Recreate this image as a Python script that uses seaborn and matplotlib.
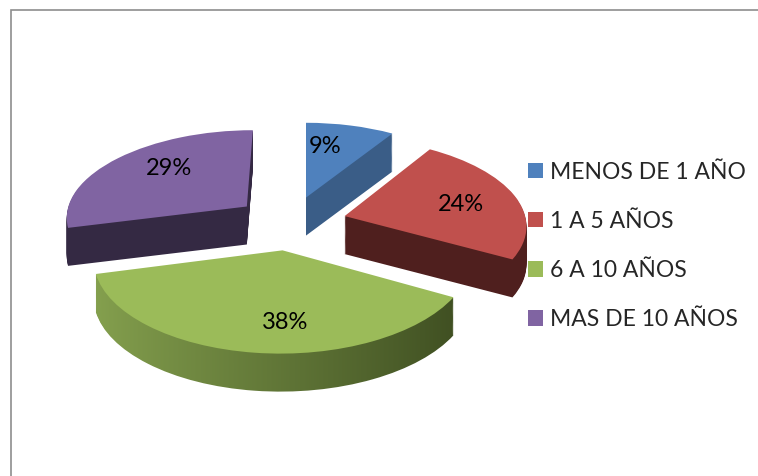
import numpy as np
import matplotlib
matplotlib.use('Agg')
import matplotlib.pyplot as plt
from matplotlib.colors import LinearSegmentedColormap
from matplotlib.patches import Rectangle
from matplotlib.transforms import ScaledTranslation, Transform
import seaborn as sns

# Data
categories = ['MENOS DE 1 AÑO', '1 A 5 AÑOS', '6 A 10 AÑOS', 'MAS DE 10 AÑOS']
percents = [9, 24, 38, 29]
top_colors = ['#4F81BD', '#C0504D', '#9BBB59', '#8064A2']
side_colors = ['#3A5D87', '#4F1F1E', '#5F7A34', '#342943']
green_side = ['#86A24F', '#3B4A1F']

# label nudges to mimic Excel's label placement
label_turn = [6, -3, 9, -7]
label_dist = [0.67, 0.67, 0.72, 0.67]

sns.set_theme(style='white')
plt.rcParams['font.family'] = ['Lato', 'DejaVu Sans']

X0, A, K = 0.0865, 0.10, 0.10


class Tilt(Transform):
    """Rough perspective: squeeze the far side of the disc."""
    input_dims = output_dims = 2
    has_inverse = True

    def transform_non_affine(self, xy):
        xy = np.asarray(xy, dtype=float)
        x, y = xy[:, 0], xy[:, 1]
        return np.column_stack([X0 + (x - X0) * (1 - A * y), y / (1 + K * y)])

    def inverted(self):
        return TiltInv()


class TiltInv(Transform):
    input_dims = output_dims = 2
    has_inverse = True

    def transform_non_affine(self, xy):
        xy = np.asarray(xy, dtype=float)
        xp, z = xy[:, 0], xy[:, 1]
        y = z / (1 - K * z)
        return np.column_stack([X0 + (xp - X0) / (1 - A * y), y])

    def inverted(self):
        return Tilt()


fig = plt.figure(figsize=(7.58, 4.76), dpi=100)
ax = fig.add_axes([0, 0, 1, 1])
tilt = Tilt()

explode = [0.31] * len(percents)
thick = 0.38          # wall height in inches
n_layers = 40
grad = LinearSegmentedColormap.from_list('gside', green_side)
gimg = np.linspace(0, 1, 256).reshape(1, -1)

# stacked darker pies give the 3D side wall
for dy in np.linspace(thick, 0.0, n_layers, endpoint=False):
    off = tilt + ax.transData + ScaledTranslation(0, -dy, fig.dpi_scale_trans)
    wedges, _ = ax.pie(percents, colors=side_colors, explode=explode,
                       startangle=90, counterclock=False,
                       wedgeprops=dict(linewidth=0))
    for w in wedges:
        w.set_transform(off)
    g = wedges[2]
    g.set_facecolor('none')
    cx, cy = g.center
    r = g.r
    im = ax.imshow(gimg, cmap=grad,
                   extent=[cx - 1.02 * r, cx + 1.02 * r, cy - 1.5 * r, cy + 1.5 * r],
                   aspect='auto', interpolation='bicubic')
    im.set_transform(off)
    im.set_clip_path(g)

# top face
wedges, texts, autotexts = ax.pie(percents, colors=top_colors, explode=explode,
                                  startangle=90, counterclock=False,
                                  autopct='%1.0f%%', pctdistance=0.67,
                                  wedgeprops=dict(linewidth=0),
                                  textprops=dict(fontsize=17, color='black'))
for w, t, turn, dist in zip(wedges, autotexts, label_turn, label_dist):
    w.set_transform(tilt + ax.transData)
    ang = np.deg2rad((w.theta1 + w.theta2) / 2 + turn)
    cx, cy = w.center
    t.set_position((cx + dist * np.cos(ang), cy + dist * np.sin(ang)))
    t.set_transform(tilt + ax.transData)

ax.set_aspect('auto')
ax.set_xlim(-1.595, 2.570)
ax.set_ylim(-2.911, 2.560)
ax.axis('off')

fig.legend(wedges, categories, loc='center left', bbox_to_anchor=(0.6966, 0.4836),
           frameon=False, fontsize=16.5, handlelength=0.66, handleheight=0.66,
           handletextpad=0.3, labelspacing=1.23, borderpad=0, borderaxespad=0)

# chart area border
fig.add_artist(Rectangle((11 / 758, -0.05), 1.1, 1 - 10 / 476 + 0.05,
                         transform=fig.transFigure, fill=False,
                         edgecolor='#8E8E8E', linewidth=1.2, clip_on=False))

fig.savefig('out.png', dpi=100, facecolor='white')
